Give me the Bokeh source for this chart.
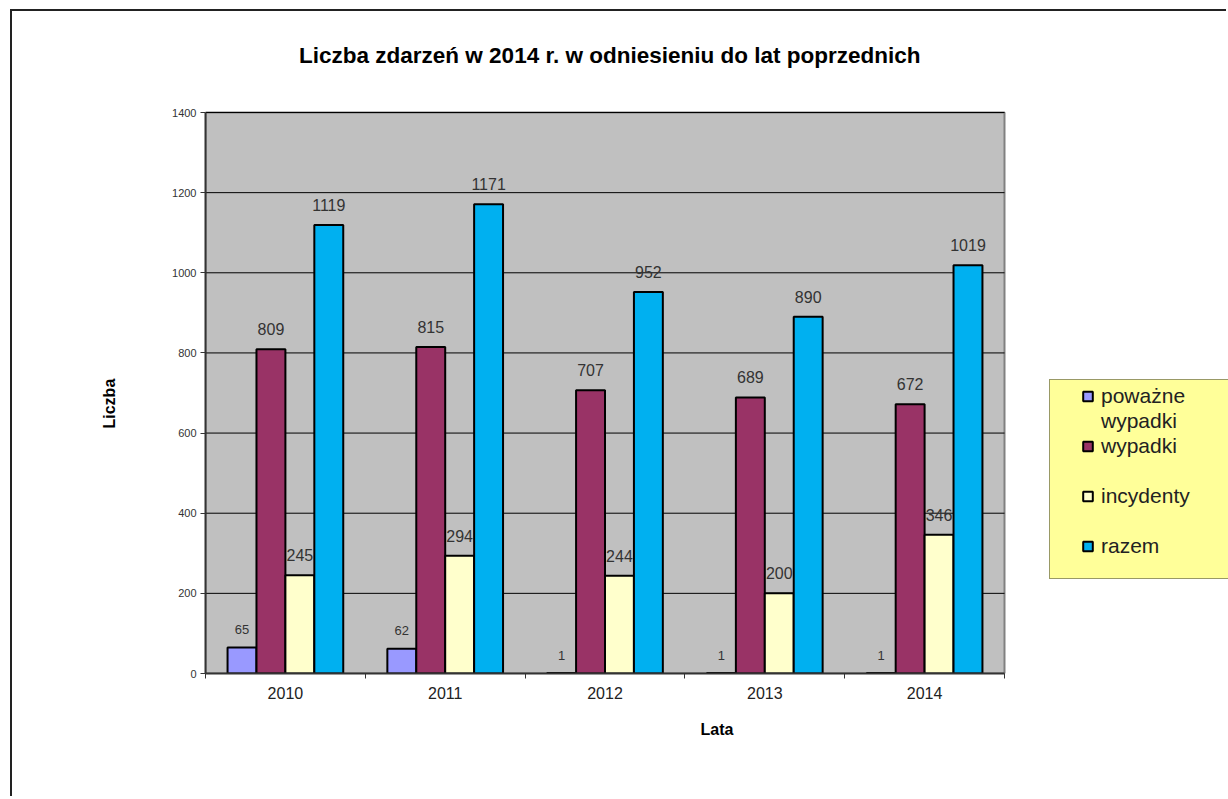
from bokeh.plotting import figure
from bokeh.models import (ColumnDataSource, Range1d, FixedTicker, LinearAxis,
                          Legend, LegendItem, Label, Title)
from bokeh.transform import dodge
from bokeh.core.properties import value
from bokeh.embed import file_html
from bokeh.resources import INLINE

# ---------------- data ----------------
years = ["2010", "2011", "2012", "2013", "2014"]
powazne = [65, 62, 1, 1, 1]
wypadki = [809, 815, 707, 689, 672]
incydenty = [245, 294, 244, 200, 346]
razem = [1119, 1171, 952, 890, 1019]
series_names = ["poważne wypadki", "wypadki", "incydenty", "razem"]
y_ticks = [0, 200, 400, 600, 800, 1000, 1200, 1400]
title_text = "Liczba zdarzeń w 2014 r. w odniesieniu  do lat  poprzednich"
y_label = "Liczba"
x_label = "Lata"

colors = ["#9999FF", "#993366", "#FFFFCC", "#00B0F0"]
FONT = "Liberation Sans"

n = len(years)
y_max = y_ticks[-1]
centers = [i + 0.5 for i in range(n)]
src = ColumnDataSource(dict(
    x=centers,
    pow=powazne, wyp=wypadki, inc=incydenty, raz=razem,
    pow_t=[str(v) for v in powazne], wyp_t=[str(v) for v in wypadki],
    inc_t=[str(v) for v in incydenty], raz_t=[str(v) for v in razem],
))

# layout (canvas pixels): plot area 193..992 x, 101..662 y;
# the frame runs to the right and top edges so legend and title live inside it
W, H = 1216, 787
FL, FB = 193, 125
PA_W, PA_H = 799, 561
x_end = n * (W - FL) / PA_W
y_end = y_max * (H - FB) / PA_H

p = figure(width=W, height=H, output_backend="svg", toolbar_location=None,
           x_range=Range1d(0, x_end), y_range=Range1d(0, y_end),
           min_border_left=FL, min_border_right=0,
           min_border_top=0, min_border_bottom=FB,
           background_fill_color="white", border_fill_color="white",
           x_axis_type=None, y_axis_type=None)
p.styles = {"border-left": "2px solid #222", "border-top": "2px solid #222",
            "margin-left": "10px", "margin-top": "9px"}
p.outline_line_color = None
p.title.visible = False
p.xgrid.visible = False
p.ygrid.visible = False

# title (as a label inside the frame)
title_cx = 603.5   # canvas px
title_cy = 44      # canvas px from top
p.add_layout(Label(x=n * (title_cx - FL) / PA_W,
                   y=y_max * ((H - FB) - title_cy) / PA_H,
                   text=title_text, text_align="center", text_baseline="middle",
                   text_font=FONT, text_font_size="22.5px", text_font_style="bold",
                   text_color="black"))

# plot area background + grid
p.quad(left=0, right=n, bottom=0, top=y_max, fill_color="#C0C0C0",
       line_color="#808080", line_width=2)
p.segment(x0=[0] * len(y_ticks), x1=[n] * len(y_ticks), y0=y_ticks, y1=y_ticks,
          line_color="black", line_width=1)

# axes
yax = LinearAxis(ticker=FixedTicker(ticks=y_ticks), bounds=(0, y_max))
yax.axis_line_color = "#333333"
yax.axis_line_width = 2
yax.major_tick_line_color = "#333333"
yax.major_tick_out = 5
yax.major_tick_in = 0
yax.minor_tick_line_color = None
yax.major_label_text_font = FONT
yax.major_label_text_font_size = "11px"
yax.major_label_text_color = "#333333"
yax.major_label_standoff = 4
p.add_layout(yax, "left")

# y axis title, positioned along the plot area (not the whole frame)
p.add_layout(Title(text=y_label, align="left", offset=245, standoff=104,
                   text_font=FONT, text_font_size="16px", text_font_style="bold",
                   text_color="black"), "left")

xax = LinearAxis(ticker=FixedTicker(ticks=centers, minor_ticks=list(range(n + 1))),
                 bounds=(0, n))
xax.major_label_overrides = {c: y for c, y in zip(centers, years)}
xax.axis_line_color = "#333333"
xax.axis_line_width = 2
xax.major_tick_line_color = None
xax.major_tick_out = 0
xax.major_tick_in = 0
xax.minor_tick_line_color = "#333333"
xax.minor_tick_line_width = 1
xax.minor_tick_out = 5
xax.minor_tick_in = 0
xax.major_label_text_font = FONT
xax.major_label_text_font_size = "16px"
xax.major_label_text_color = "#222222"
xax.major_label_standoff = 8
xax.axis_label = x_label
xax.axis_label_text_font = FONT
xax.axis_label_text_font_size = "16px"
xax.axis_label_text_font_style = "bold"
xax.axis_label_text_color = "black"
xax.axis_label_standoff = 19
p.add_layout(xax, "below")

w = 0.181
offsets = [-1.5 * w, -0.5 * w, 0.5 * w, 1.5 * w]
cols = ["pow", "wyp", "inc", "raz"]

# legend proxies (zero-size markers hidden under the bars)
proxies = []
for off, col, c in zip(offsets, cols, colors):
    proxies.append(p.scatter(x=dodge("x", off, range=p.x_range), y=col, source=src,
                             marker="square", size=0, fill_color=c,
                             line_color="black", line_width=2))
blank = p.scatter(x=dodge("x", 0, range=p.x_range), y="pow", source=src,
                  marker="square", size=0, fill_alpha=0, line_alpha=0)

# bars
for off, col, c in zip(offsets, cols, colors):
    p.vbar(x=dodge("x", off, range=p.x_range), top=col, width=w, bottom=0,
           source=src, fill_color=c, line_color="black", line_width=2)

# value labels
for off, col in zip(offsets, cols):
    small = col == "pow"
    p.text(x=dodge("x", off, range=p.x_range), y=col, text=col + "_t", source=src,
           text_font=value(FONT), text_font_size="13px" if small else "16px",
           text_color="#333333", text_align="center", text_baseline="middle",
           y_offset=-18 if small else -20)

# legend background box
bg_leg = Legend(items=[LegendItem(label=" ", renderers=[blank])],
                location=(844, 94), margin=0, padding=0, spacing=0,
                glyph_width=1, glyph_height=1, label_width=200, label_height=198,
                label_standoff=0, background_fill_color="#FFFF99",
                background_fill_alpha=1, border_line_color="#333333",
                border_line_width=1)
p.add_layout(bg_leg, "center")

# legend entries
first, second = series_names[0].split(" ")
items = [
    LegendItem(label=first, renderers=[proxies[0]]),
    LegendItem(label=second, renderers=[blank]),
    LegendItem(label=series_names[1], renderers=[proxies[1]]),
    LegendItem(label=" ", renderers=[blank]),
    LegendItem(label=series_names[2], renderers=[proxies[2]]),
    LegendItem(label=" ", renderers=[blank]),
    LegendItem(label=series_names[3], renderers=[proxies[3]]),
]
leg = Legend(items=items, location=(869, 115), margin=0, padding=0, spacing=1,
             glyph_width=27, glyph_height=24, label_height=24, label_standoff=0,
             label_text_font=FONT, label_text_font_size="21px",
             label_text_color="#222222", background_fill_alpha=0,
             border_line_alpha=0)
p.add_layout(leg, "center")

open("out.html", "w").write(file_html(p, INLINE))
